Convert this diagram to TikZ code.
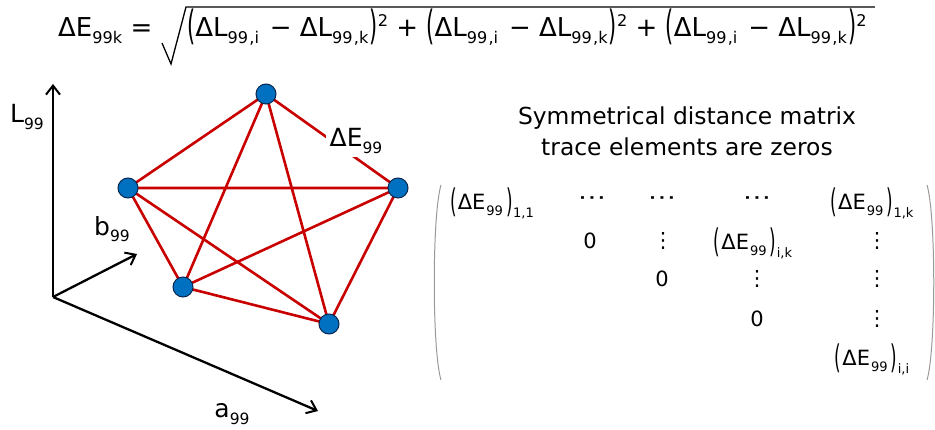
\documentclass[tikz,border=0pt]{standalone}
\usepackage{fontspec}
\usepackage{graphicx}
\setmainfont{DejaVu Sans}
\usetikzlibrary{arrows.meta,calc}
\newcommand{\Sb}[1]{\raisebox{-0.26em}{\scalebox{0.62}{#1}}}
\newcommand{\Sp}[1]{\raisebox{0.42em}{\scalebox{0.62}{#1}}}
\newcommand{\Lp}{\raisebox{-0.1em}{\scalebox{0.8}[1.55]{(}}}
\newcommand{\Rp}{\raisebox{-0.1em}{\scalebox{0.8}[1.55]{)}}}
\newcommand{\grp}{\Lp ΔL\Sb{99\kern0.08em,i}\kern0.1em{} − ΔL\Sb{99\kern0.08em,k}\kern0.05em\Rp\Sp{2}}
\newcommand{\dEx}[1]{\Lp\kern0.05emΔE\kern0.05em\Sb{99}\kern0.15em\Rp\kern0.02em\raisebox{-0.34em}{\scalebox{0.62}{#1}}}
\newcommand{\hdots}{\scalebox{1.35}[1]{⋯}}
\begin{document}
\begin{tikzpicture}[x=1pt,y=-1pt,
  pt/.style={circle,fill={rgb,255:red,0;green,112;blue,192},draw={rgb,255:red,10;green,40;blue,80},line width=1pt,minimum size=20pt,inner sep=0pt},
  edge/.style={draw={rgb,255:red,200;green,0;blue,0},line width=2.6pt},
  axis/.style={line width=2.3pt,-{Straight Barb[length=9pt,width=14pt,line width=2pt]}},
  lbl/.style={font=\fontsize{25}{28}\selectfont,inner sep=1pt},
  ent/.style={font=\fontsize{21}{24}\selectfont,inner sep=0pt},
  paren/.style={draw=gray!80,line width=1pt},
  radical/.style={line width=1.3pt,line join=miter}]
\useasboundingbox (0,0) rectangle (935,430);
% formula
\node[font=\fontsize{26}{30}\selectfont,inner sep=0pt,anchor=base west] (lhs) at (58,37)
  {ΔE\Sb{99k} =};
\node[font=\fontsize{26}{30}\selectfont,inner sep=0pt,anchor=base west] (rad) at (187,37)
  {\grp{} + \grp{} + \grp};
\draw[radical] ($(rad.base west)+(-25,6)$) -- ++(9,21) -- ++(15,-57) -- ($(rad.base east)+(8,-30)$);
% axes
\coordinate (o) at (53,297);
\coordinate (lt) at (53,84);
\coordinate (bt) at (137,254);
\coordinate (at) at (318,411);
\draw[axis] (o) -- (lt);
\draw[axis] (o) -- (bt);
\draw[axis] (o) -- (at);
\node[lbl] (L) at (27,117) {L\Sb{99}};
\node[lbl] (b) at (112,229) {b\Sb{99}};
\node[lbl] (a) at (232,414) {a\Sb{99}};
% graph
\coordinate (T) at (266,94);
\coordinate (Lf) at (128,188);
\coordinate (R) at (398,188);
\coordinate (BL) at (183,287);
\coordinate (BR) at (329,324);
\draw[edge] (T) -- (Lf) (T) -- (BL) (T) -- (BR) (T) -- (R)
  (Lf) -- (R) (Lf) -- (BL) (Lf) -- (BR)
  (R) -- (BL) (R) -- (BR) (BL) -- (BR);
\node[lbl,fill=white,inner sep=4pt] (dE) at (356,141) {ΔE\Sb{99}};
\foreach \n in {T,Lf,R,BL,BR} \node[pt] (n\n) at (\n) {};
% heading
\node[font=\fontsize{23.4}{31}\selectfont,align=center] (head) at (687,131)
  {Symmetrical distance matrix\\trace elements are zeros};
% matrix
\draw[paren] (441,185) .. controls (432,215) and (432,350) .. (441,380);
\draw[paren] (927,185) .. controls (936,215) and (936,350) .. (927,380);
\node[ent] (m11) at (492,203) {\dEx{1,1}};
\node[ent] (m12) at (592,201) {\hdots};
\node[ent] (m13) at (662,201) {\hdots};
\node[ent] (m14) at (757,201) {\hdots};
\node[ent] (m15) at (872,203) {\dEx{1,k}};
\node[ent] (m22) at (590,241) {0};
\node[ent] (m23) at (663,241) {⋮};
\node[ent] (m24) at (753,243) {\dEx{i,k}};
\node[ent] (m25) at (877,241) {⋮};
\node[ent] (m33) at (662,279) {0};
\node[ent] (m34) at (757,279) {⋮};
\node[ent] (m35) at (877,279) {⋮};
\node[ent] (m44) at (757,319) {0};
\node[ent] (m45) at (877,319) {⋮};
\node[ent] (m55) at (872,359) {\dEx{i,i}};
\end{tikzpicture}
\end{document}
